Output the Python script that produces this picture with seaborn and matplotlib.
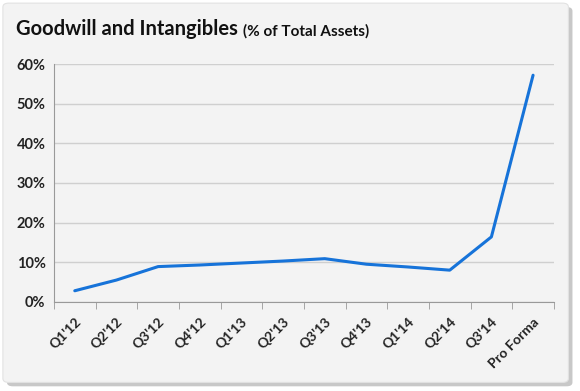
import matplotlib
matplotlib.use("Agg")
import matplotlib.pyplot as plt
import seaborn as sns
import pandas as pd
from matplotlib.patches import FancyBboxPatch
from matplotlib.ticker import FuncFormatter

# data
quarters = ["Q1'12", "Q2'12", "Q3'12", "Q4'12", "Q1'13", "Q2'13",
            "Q3'13", "Q4'13", "Q1'14", "Q2'14", "Q3'14", "Pro Forma"]
goodwill_pct = [2.8, 5.5, 8.9, 9.3, 9.8, 10.3, 10.9, 9.5, 8.8, 8.0, 16.4, 57.2]
y_ticks = [0, 10, 20, 30, 40, 50, 60]

df = pd.DataFrame({"Quarter": quarters, "Pct": goodwill_pct})
df["pos"] = range(len(df))

sns.set_style("white")
plt.rcParams["font.family"] = ["Lato", "DejaVu Sans"]

fig = plt.figure(figsize=(5.8, 3.91), dpi=100)
fig.patch.set_facecolor("white")

# card background with shadow
shadow = FancyBboxPatch((0.012, 0.012), 0.975, 0.97, boxstyle="round,pad=0,rounding_size=0.01",
                        transform=fig.transFigure, facecolor="#c8c8c8", edgecolor="none", zorder=-2)
card = FancyBboxPatch((0.005, 0.022), 0.975, 0.97, boxstyle="round,pad=0,rounding_size=0.01",
                      transform=fig.transFigure, facecolor="#f3f3f3", edgecolor="#e2e2e2",
                      linewidth=0.8, zorder=-1)
fig.patches.extend([shadow, card])

ax = fig.add_axes([0.093, 0.228, 0.862, 0.608])
ax.set_facecolor("none")

sns.lineplot(data=df, x="pos", y="Pct", ax=ax, color="#1673d9", linewidth=2.2)

ax.set_xlim(-0.5, len(quarters) - 0.5)
ax.set_ylim(0, 60)
ax.set_yticks(y_ticks)
ax.yaxis.set_major_formatter(FuncFormatter(lambda v, _: f"{v:.0f}%"))
ax.grid(axis="y", color="#cfcfcf", linewidth=1)
ax.set_axisbelow(True)

ax.set_xticks(range(len(quarters)))
ax.set_xticklabels(quarters, rotation=45, ha="right", rotation_mode="anchor",
                   fontsize=10, fontweight="bold", color="#222222")
ax.set_xticks([i - 0.5 for i in range(len(quarters) + 1)], minor=True)
ax.tick_params(axis="x", which="major", length=0, pad=10)
ax.tick_params(axis="x", which="minor", length=5, color="#999999", direction="out", bottom=True)
ax.tick_params(axis="y", length=0, pad=6, labelsize=10.5, labelcolor="#222222")
for lbl in ax.get_yticklabels():
    lbl.set_fontweight("bold")

for side in ["top", "right"]:
    ax.spines[side].set_visible(False)
ax.spines["left"].set_color("#999999")
ax.spines["bottom"].set_color("#999999")
ax.set_xlabel("")
ax.set_ylabel("")

fig.text(0.028, 0.91, "Goodwill and Intangibles", fontsize=14.5, fontweight="bold", color="#111111")
fig.text(0.419, 0.91, "(% of Total Assets)", fontsize=11, fontweight="bold", color="#111111")

fig.savefig("out.png", dpi=100)
